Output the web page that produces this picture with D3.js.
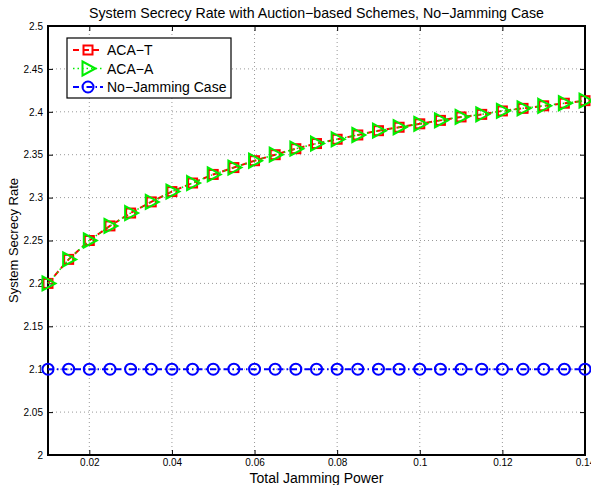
<!DOCTYPE html>
<html>
<head>
<meta charset="utf-8">
<script src="https://cdn.jsdelivr.net/npm/d3@7"></script>
<style>
  body { margin: 0; background: #fff; }
  svg { display: block; font-family: "Liberation Sans", Arial, sans-serif; }
</style>
</head>
<body>
<div id="chart"></div>
<script>
// jamming power (x) values
var powers = [0.01, 0.015, 0.02, 0.025, 0.03, 0.035, 0.04, 0.045, 0.05, 0.055,
  0.06, 0.065, 0.07, 0.075, 0.08, 0.085, 0.09, 0.095, 0.1, 0.105,
  0.11, 0.115, 0.12, 0.125, 0.13, 0.135, 0.14];

var acaT = [2.200, 2.228, 2.250, 2.267, 2.282, 2.295, 2.307, 2.317, 2.327, 2.335,
  2.343, 2.350, 2.357, 2.363, 2.368, 2.373, 2.378, 2.382, 2.386, 2.390,
  2.394, 2.397, 2.401, 2.404, 2.407, 2.410, 2.413];

var acaA = [2.200, 2.228, 2.250, 2.267, 2.282, 2.295, 2.307, 2.317, 2.327, 2.335,
  2.343, 2.350, 2.357, 2.363, 2.368, 2.373, 2.378, 2.382, 2.386, 2.390,
  2.394, 2.397, 2.401, 2.404, 2.407, 2.410, 2.413];

var noJam = [2.1, 2.1, 2.1, 2.1, 2.1, 2.1, 2.1, 2.1, 2.1, 2.1,
  2.1, 2.1, 2.1, 2.1, 2.1, 2.1, 2.1, 2.1, 2.1, 2.1,
  2.1, 2.1, 2.1, 2.1, 2.1, 2.1, 2.1];

var xTicks = [0.02, 0.04, 0.06, 0.08, 0.1, 0.12, 0.14];
var yTicks = [2, 2.05, 2.1, 2.15, 2.2, 2.25, 2.3, 2.35, 2.4, 2.45, 2.5];
var seriesNames = ['ACA\u2212T', 'ACA\u2212A', 'No\u2212Jamming Case'];

var width = 591, height = 485;
var margin = {top: 26, right: 6, bottom: 30, left: 48};

var svg = d3.select('#chart').append('svg')
    .attr('width', width)
    .attr('height', height);

var x = d3.scaleLinear().domain([0.01, 0.14]).range([margin.left, width - margin.right]);
var y = d3.scaleLinear().domain([2, 2.5]).range([height - margin.bottom, margin.top]);

var x0 = x.range()[0], x1 = x.range()[1];
var y0 = y.range()[0], y1 = y.range()[1];

// grid
var grid = svg.append('g').attr('class', 'grid');
grid.selectAll('.vg').data(xTicks.filter(function(d){ return d < 0.14; }))
  .enter().append('line')
    .attr('x1', function(d){ return x(d); }).attr('x2', function(d){ return x(d); })
    .attr('y1', y1).attr('y2', y0)
    .attr('stroke', '#999').attr('stroke-width', 1)
    .attr('stroke-dasharray', '1,3');
grid.selectAll('.hg').data(yTicks.filter(function(d){ return d > 2 && d < 2.5; }))
  .enter().append('line')
    .attr('x1', x0).attr('x2', x1)
    .attr('y1', function(d){ return y(d); }).attr('y2', function(d){ return y(d); })
    .attr('stroke', '#999').attr('stroke-width', 1)
    .attr('stroke-dasharray', '1,3');

// axes (ticks inward, matlab style)
var fmt = function(d){ return String(+d.toFixed(2)); };
var xAxis = svg.append('g')
    .attr('transform', 'translate(0,' + y0 + ')')
    .call(d3.axisBottom(x).tickValues(xTicks).tickSizeInner(-5).tickSizeOuter(0).tickPadding(4).tickFormat(fmt));
var xAxisTop = svg.append('g')
    .attr('transform', 'translate(0,' + y1 + ')')
    .call(d3.axisTop(x).tickValues(xTicks).tickSizeInner(-5).tickSizeOuter(0).tickFormat(''));
var yAxis = svg.append('g')
    .attr('transform', 'translate(' + x0 + ',0)')
    .call(d3.axisLeft(y).tickValues(yTicks).tickSizeInner(-5).tickSizeOuter(0).tickPadding(5).tickFormat(fmt));
var yAxisRight = svg.append('g')
    .attr('transform', 'translate(' + x1 + ',0)')
    .call(d3.axisRight(y).tickValues(yTicks).tickSizeInner(-5).tickSizeOuter(0).tickFormat(''));

[xAxis, xAxisTop, yAxis, yAxisRight].forEach(function(a){
  a.select('.domain').remove();
  a.selectAll('line').attr('stroke', '#000');
  a.selectAll('text').attr('font-size', 10).attr('fill', '#000')
    .attr('font-family', '"Liberation Sans", Arial, sans-serif');
});

// box
svg.append('rect')
    .attr('x', x0).attr('y', y1)
    .attr('width', x1 - x0).attr('height', y0 - y1)
    .attr('fill', 'none').attr('stroke', '#000').attr('stroke-width', 2);

var line = d3.line()
    .x(function(d){ return x(d[0]); })
    .y(function(d){ return y(d[1]); });

var zip = function(vals){ return powers.map(function(p, i){ return [p, vals[i]]; }); };

var series = [
  {name: seriesNames[0], values: zip(acaT), color: '#ff0000', dash: '6,4', width: 2, marker: 'square'},
  {name: seriesNames[1], values: zip(acaA), color: '#00ee00', dash: '1.5,3', width: 1.5, marker: 'triangle'},
  {name: seriesNames[2], values: zip(noJam), color: '#0000ff', dash: '6,3,1.5,3', width: 2, marker: 'circle'}
];

var drawMarker = function(g, type, color, cx, cy){
  if (type === 'square') {
    g.append('rect')
      .attr('x', cx - 4.5).attr('y', cy - 4.5)
      .attr('width', 9).attr('height', 9)
      .attr('fill', 'none').attr('stroke', color).attr('stroke-width', 2);
  } else if (type === 'triangle') {
    g.append('path')
      .attr('d', 'M' + (cx - 5.5) + ',' + (cy - 7) + 'L' + (cx + 7.5) + ',' + cy + 'L' + (cx - 5.5) + ',' + (cy + 7) + 'Z')
      .attr('fill', 'none').attr('stroke', color).attr('stroke-width', 2);
  } else {
    g.append('circle')
      .attr('cx', cx).attr('cy', cy).attr('r', 5.5)
      .attr('fill', 'none').attr('stroke', color).attr('stroke-width', 2);
  }
};

var plot = svg.append('g');
series.forEach(function(s){
  var g = plot.append('g');
  g.append('path')
    .datum(s.values)
    .attr('d', line)
    .attr('fill', 'none')
    .attr('stroke', s.color)
    .attr('stroke-width', s.width)
    .attr('stroke-dasharray', s.dash);
  s.values.forEach(function(d){
    drawMarker(g, s.marker, s.color, x(d[0]), y(d[1]));
  });
});

// legend
var legend = svg.append('g');
legend.append('rect')
    .attr('x', 67).attr('y', 38).attr('width', 164).attr('height', 60)
    .attr('fill', '#fff').attr('stroke', '#000').attr('stroke-width', 1.2);
series.forEach(function(s, i){
  var ly = 50 + i * 18.5;
  var lg = legend.append('g');
  lg.append('line')
    .attr('x1', 73).attr('x2', 103).attr('y1', ly).attr('y2', ly)
    .attr('stroke', s.color).attr('stroke-width', s.width)
    .attr('stroke-dasharray', s.dash);
  drawMarker(lg, s.marker, s.color, 88, ly);
  lg.append('text')
    .attr('x', 107).attr('y', ly + 5)
    .attr('font-size', 14)
    .text(s.name);
});

// title and labels
svg.append('text')
    .attr('x', (x0 + x1) / 2).attr('y', 18)
    .attr('text-anchor', 'middle')
    .attr('font-size', 14.2)
    .text('System Secrecy Rate with Auction\u2212based Schemes, No\u2212Jamming Case');

svg.append('text')
    .attr('x', (x0 + x1) / 2).attr('y', 483)
    .attr('text-anchor', 'middle')
    .attr('font-size', 14)
    .text('Total Jamming Power');

svg.append('text')
    .attr('transform', 'translate(18,' + ((y0 + y1) / 2) + ') rotate(-90)')
    .attr('text-anchor', 'middle')
    .attr('font-size', 13)
    .text('System Secrecy Rate');
</script>
</body>
</html>
